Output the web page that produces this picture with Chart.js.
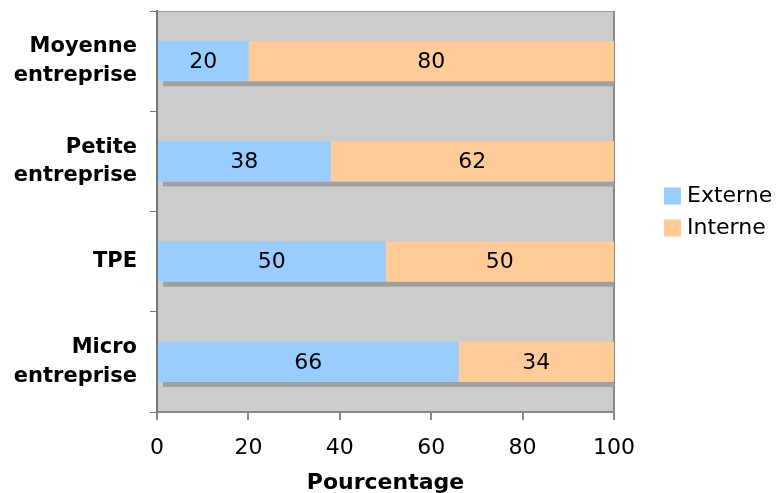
<!DOCTYPE html>
<html lang="fr">
<head>
<meta charset="UTF-8">
<title>Pourcentage</title>
<script src="https://cdn.jsdelivr.net/npm/chart.js"></script>
<style>
  body { margin:0; background:#fff; }
  .wrap { width:776px; height:493px; }
</style>
</head>
<body>
<div class="wrap"><canvas id="chart" width="776" height="493"></canvas></div>
<script>
// données
const categories = [['Moyenne', 'entreprise'], ['Petite', 'entreprise'], 'TPE', ['Micro', 'entreprise']];
const externe = [20, 38, 50, 66];
const interne = [80, 62, 50, 34];
const xTickValues = [0, 20, 40, 60, 80, 100];

const FONT = "'DejaVu Sans', Verdana, sans-serif";

// fond gris + bordure de la zone de tracé
const plotBg = {
    id: 'plotBg',
    beforeDraw(chart) {
        const { ctx, chartArea: a } = chart;
        ctx.save();
        ctx.fillStyle = '#cccccc';
        ctx.fillRect(a.left, a.top, a.right - a.left, a.bottom - a.top);
        ctx.strokeStyle = '#999999';
        ctx.lineWidth = 1;
        ctx.beginPath();
        ctx.moveTo(a.left, a.top + 0.5);
        ctx.lineTo(a.right, a.top + 0.5);
        ctx.stroke();
        ctx.strokeStyle = '#888888';
        ctx.lineWidth = 2;
        ctx.beginPath();
        ctx.moveTo(a.right, a.top);
        ctx.lineTo(a.right, a.bottom);
        ctx.stroke();
        ctx.restore();
    }
};

// ombre sous chaque barre
const barShadow = {
    id: 'barShadow',
    beforeDatasetsDraw(chart) {
        const { ctx } = chart;
        const first = chart.getDatasetMeta(0).data;
        const last = chart.getDatasetMeta(chart.data.datasets.length - 1).data;
        ctx.save();
        ctx.fillStyle = '#a0a0a0';
        first.forEach((el, i) => {
            const end = last[i];
            const bottom = el.y + el.height / 2;
            const x0 = el.base + 5;
            ctx.fillRect(x0, bottom, end.x - x0, 5);
        });
        ctx.restore();
    }
};

// valeurs au centre des segments
const barLabels = {
    id: 'barLabels',
    afterDatasetsDraw(chart) {
        const { ctx } = chart;
        ctx.save();
        ctx.font = '22px ' + FONT;
        ctx.fillStyle = '#000';
        ctx.textAlign = 'center';
        ctx.textBaseline = 'middle';
        chart.data.datasets.forEach((ds, d) => {
            chart.getDatasetMeta(d).data.forEach((el, i) => {
                ctx.fillText(ds.data[i], (el.x + el.base) / 2, el.y + 1);
            });
        });
        ctx.restore();
    }
};

// légende à droite
const sideLegend = {
    id: 'sideLegend',
    afterDraw(chart) {
        const { ctx, chartArea: a } = chart;
        const mid = (a.top + a.bottom) / 2;
        const n = chart.data.datasets.length;
        ctx.save();
        ctx.font = '22px ' + FONT;
        ctx.textBaseline = 'middle';
        chart.data.datasets.forEach((ds, i) => {
            const y = mid + (i - (n - 1) / 2) * 32;
            ctx.fillStyle = ds.backgroundColor;
            ctx.fillRect(a.right + 50, y - 8, 17, 17);
            ctx.fillStyle = '#000';
            ctx.fillText(ds.label, a.right + 73, y + 1);
        });
        ctx.restore();
    }
};

new Chart(document.getElementById('chart'), {
    type: 'bar',
    data: {
        labels: categories,
        datasets: [
            { label: 'Externe', data: externe, backgroundColor: '#99ccff' },
            { label: 'Interne', data: interne, backgroundColor: '#ffcc99' }
        ]
    },
    options: {
        indexAxis: 'y',
        responsive: false,
        animation: false,
        categoryPercentage: 1,
        barPercentage: 0.4,
        layout: { padding: { left: 0, top: 11, right: 162, bottom: 0 } },
        plugins: {
            legend: { display: false },
            tooltip: { enabled: false }
        },
        scales: {
            x: {
                stacked: true,
                min: 0, max: 100,
                afterBuildTicks: s => { s.ticks = xTickValues.map(v => ({ value: v })); },
                afterFit: s => { s.height = 81; s.paddingLeft = 0; s.paddingRight = 0; },
                grid: { drawOnChartArea: false, tickLength: 8, color: '#888888', lineWidth: 2 },
                border: { color: '#888888', width: 2 },
                ticks: { color: '#000', padding: 15, font: { family: FONT, size: 22 } },
                title: {
                    display: true, text: 'Pourcentage', color: '#000',
                    font: { family: FONT, size: 22, weight: 'bold' },
                    padding: { top: 4, bottom: -3 }
                }
            },
            y: {
                stacked: true,
                afterFit: s => { s.width = 157; s.paddingTop = 0; s.paddingBottom = 0; },
                grid: { drawOnChartArea: false, tickLength: 7, color: '#777777', offset: true },
                border: { color: '#777777', width: 2 },
                ticks: { color: '#000', padding: 13, font: { family: FONT, size: 21, weight: 'bold', lineHeight: 1.35 } }
            }
        }
    },
    plugins: [plotBg, barShadow, barLabels, sideLegend]
});
</script>
</body>
</html>
